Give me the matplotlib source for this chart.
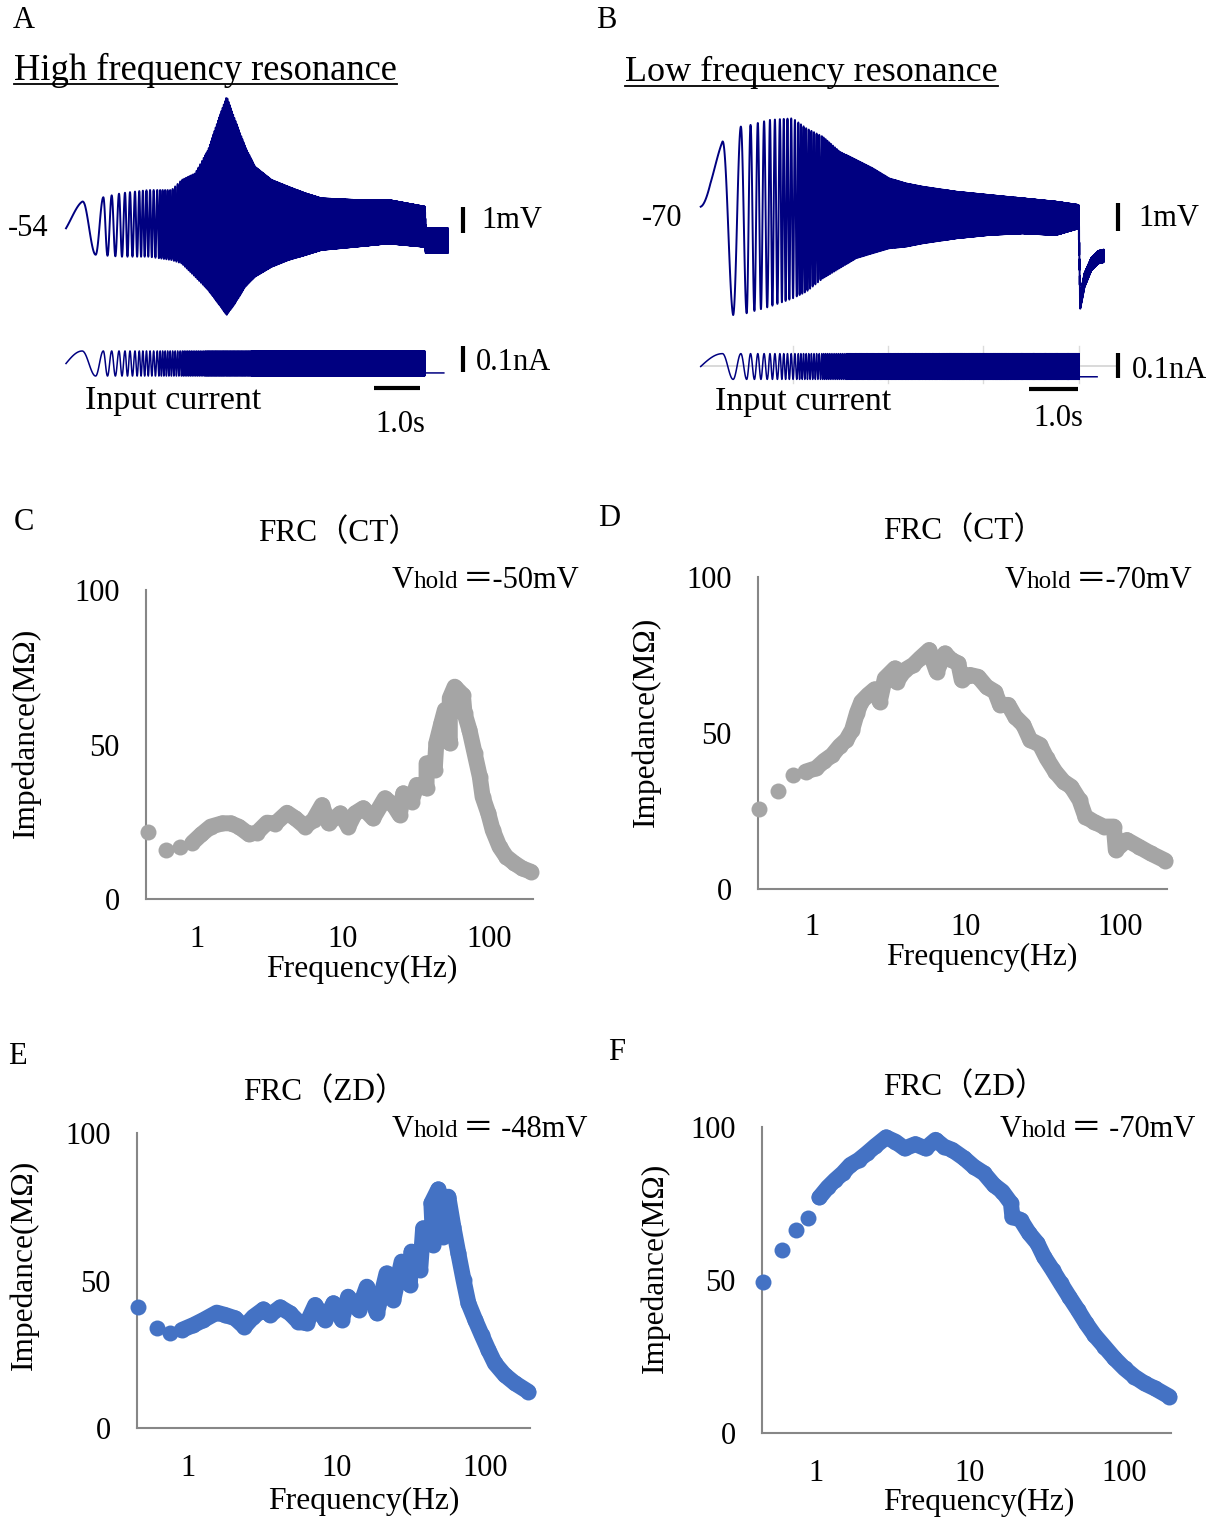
import numpy as np
import matplotlib
matplotlib.use('Agg')
import matplotlib.pyplot as plt
from matplotlib.ticker import NullLocator
from matplotlib.lines import Line2D

plt.rcParams['font.family'] = ['Liberation Serif', 'Noto Sans CJK JP']
plt.rcParams['path.simplify'] = False

W, H = 1220, 1519
NAVY = '#000080'
GRAY = '#a5a5a5'
BLUE = '#4472c4'
AXIS = '#878787'

# ---------------- A: high frequency resonance trace ----------------
# stimulus cycles counted at the peaks/troughs
a_cyc_t = [0, 0.35, 0.64, 0.806, 0.987, 1.145, 1.274, 1.382, 1.49, 1.583,
           2.0, 2.5, 3.0, 4.0, 5.0, 6.5, 8.5]
a_cyc_n = [0, 0.25, 0.75, 1.25, 2.25, 3.25, 4.25, 5.25, 6.25, 7.25,
           12.63, 21.88, 34.88, 74.88, 139.88, 304.88, 644.88]
a_env_t = [0, 0.41, 0.70, 1.20, 1.78, 2.28, 2.50, 2.79, 3.07, 3.29, 3.47, 3.65,
           3.87, 4.08, 4.44, 4.80, 5.16, 5.52, 6.24, 6.96, 7.75, 7.77, 8.25]
a_env_up = [0.59, 1.04, 1.10, 1.30, 1.42, 1.42, 1.81, 2.06, 2.96, 4.12, 5.01, 4.12,
            3.09, 2.32, 1.81, 1.55, 1.30, 1.10, 1.04, 1.04, 0.78, -0.05, -0.05]
a_env_lo = [-0.69, -1.01, -1.08, -1.14, -1.14, -1.27, -1.40, -1.91, -2.42, -2.94, -3.38, -2.94,
            -2.30, -1.91, -1.53, -1.27, -1.08, -0.88, -0.76, -0.63, -0.76, -1.0, -1.0]
a_vhold = -54
a_stim_end, a_v_end, a_i_end = 7.75, 8.25, 8.16
a_i_amp, a_i_post = 0.049, -0.037

# ---------------- B: low frequency resonance trace ----------------
b_cyc_t = [0, 0.45, 0.67, 0.83, 0.95, 1.03, 1.11, 1.18, 1.4, 1.65,
           2.0, 2.5, 3.0, 4.0, 5.0, 6.5, 8.5]
b_cyc_n = [0, 0.25, 0.75, 1.25, 1.75, 2.25, 2.75, 3.25, 4.95, 7.39,
           11.94, 21.19, 34.19, 74.19, 139.19, 304.19, 664.19]
b_env_t = [0, 0.2, 0.45, 0.67, 0.83, 1.03, 1.42, 1.90, 2.18, 2.52, 2.87, 3.21, 3.55,
           3.90, 4.24, 4.59, 5.28, 5.96, 6.65, 7.34, 7.81, 7.84, 7.93, 8.07, 8.21, 8.33]
b_env_up = [0.5, 1.6, 2.65, 3.1, 3.19, 3.25, 3.43, 3.49, 3.13, 2.83, 2.29, 1.99, 1.69,
            1.32, 1.14, 1.02, 0.84, 0.72, 0.60, 0.48, 0.36, -2.9, -2.1, -1.55, -1.3, -1.25]
b_env_lo = [0.1, -1.0, -2.5, -3.61, -3.61, -3.5, -3.31, -3.01, -2.77, -2.29, -1.92, -1.56, -1.38,
            -1.20, -1.14, -1.02, -0.84, -0.72, -0.66, -0.72, -0.48, -3.4, -2.6, -2.0, -1.75, -1.7]
b_vhold = -70
b_stim_end, b_v_end, b_i_end = 7.82, 8.33, 8.19
b_i_amp, b_i_post = 0.05, -0.04
b_grid_t = [1.9, 3.88, 5.84, 7.82]

# ---------------- C-F: frequency response curves ----------------
c_freq = [0.466, 0.615, 0.77, 0.935, 1.076, 1.246, 1.5, 1.705, 1.944, 2.27, 2.59, 3.03,
          3.45, 4.15, 4.73, 5.53, 6.3, 7.2, 7.98, 9.6, 10.9, 12.1, 13.8, 16.1, 19.4,
          22.2, 24.5, 25.9, 29.5, 32, 37.4, 37.4, 42.5, 43.6, 47.2, 49.9, 53.9, 53.9,
          58.2, 66.3, 68, 73.5, 79.7, 86.5, 90.4, 98.9, 106, 118, 131, 149, 169, 194]
c_imp = [21.6, 15.9, 16.9, 18.2, 20.9, 23.4, 24.5, 24.5, 23.4, 21.0, 21.5, 24.7,
         24.4, 27.9, 26.1, 23.4, 25.6, 30.4, 24.5, 27.7, 23.4, 27.7, 29.4, 26.1, 32.6,
         30.4, 27.2, 34.2, 31.5, 36.9, 35.8, 43.9, 41.7, 50.4, 56.9, 61.2, 50.4, 65,
         68.7, 66, 60.1, 54.7, 47.2, 39.6, 33.1, 27.7, 22.3, 16.9, 13.7, 11.6, 9.9, 8.8]

d_freq = [0.455, 0.61, 0.756, 0.914, 1.07, 1.21, 1.36, 1.52, 1.68, 1.83, 1.97, 2.1,
          2.32, 2.56, 2.76, 2.98, 3.46, 3.55, 4.02, 4.55, 5.03, 5.77, 6.45, 7.3, 8.06,
          8.92, 9.38, 10.6, 12, 13.6, 15.4, 16.6, 18.8, 20.8, 23.5, 26, 30.1, 33.3,
          37.8, 42.8, 47.9, 54.3, 59.2, 66.9, 77.9, 90.5, 93.2, 110, 131, 157, 195]
d_imp = [25.6, 31.5, 36.5, 37.6, 38.7, 41.1, 42.9, 45.8, 47.8, 51, 56.5, 60,
         62.2, 64, 60, 67.5, 70.7, 66.4, 70.2, 71.8, 73.9, 76.6, 69.7, 75.5, 73.4,
         72.3, 67, 68.6, 68, 64.8, 63.2, 59, 59, 55.2, 52.6, 47.8, 46.2, 41.9,
         37.6, 34.4, 32.8, 28.5, 23.2, 21.6, 20, 20, 12.5, 15.7, 13.6, 11.4, 9.1]

e_freq = [0.456, 0.612, 0.753, 0.9, 1.08, 1.26, 1.55, 1.77, 2.06, 2.38, 2.74, 3.2,
          3.55, 4.15, 4.83, 5.5, 6.26, 7.14, 8.33, 9.48, 10.8, 11.9, 14, 15.9, 18.6,
          21.6, 24, 27.3, 31, 31.8, 36.4, 38.1, 44.6, 43.3, 48.2, 52, 56.3, 60.9,
          65.8, 71.3, 76.9, 85.5, 94.6, 105, 116, 135, 158, 195]
e_imp = [40.9, 33.8, 32.1, 33.2, 34.9, 36.6, 39.1, 38.3, 37.2, 34.3, 37.7, 40.2,
         38.3, 40.9, 38.9, 36, 35.5, 41.7, 36.6, 42.3, 36.6, 44.5, 40, 47.9, 38.9,
         52.4, 43.4, 56.4, 48.5, 59.8, 53.6, 67.7, 62, 76.2, 80.9, 64.8, 78.4, 68.2,
         59.2, 50.2, 42.3, 36.6, 31.5, 26.4, 21.9, 18, 15.2, 12.3]

f_freq = [0.455, 0.604, 0.75, 0.9, 1.06, 1.2, 1.34, 1.5, 1.68, 1.9, 2.15, 2.44,
          2.86, 3.29, 3.77, 4.43, 5.15, 5.98, 6.78, 7.68, 9.15, 10.6, 12.3, 14.3,
          16.2, 18.4, 18.8, 21.3, 24.1, 27.3, 30.1, 34.2, 38.7, 43.9, 49.9, 56.5,
          63.9, 74.2, 86.1, 100, 116, 135, 157, 195]
f_imp = [49.5, 59.8, 66.3, 70.2, 77, 80.3, 82.7, 84.9, 87.6, 89.2, 91.4, 93.8,
         96.6, 95.2, 93, 94.4, 93, 95.8, 93.6, 92.5, 89.8, 87, 84.9, 81,
         78.9, 75.1, 70.7, 69.6, 65.3, 62, 57.6, 53.3, 48.9, 44.5, 40.2, 35.8,
         32, 28.2, 24.4, 21.1, 18.4, 16.2, 14.6, 11.9]

freq_ticks = [1, 10, 100]
freq_ticklabels = ['1', '10', '100']
imp_ticks = [0, 50, 100]


def fx(x):
    return x / W


def fy(y):
    return 1 - y / H


def put(fig, x, y, s, size=22, ha='center', va='center', **kw):
    return fig.text(fx(x), fy(y), s, fontsize=size, ha=ha, va=va, **kw)


def trace_axes(fig, left, right, top, bottom, x0, sx, y0, sy, v0):
    # pixel box -> axes whose data units map linearly onto pixels
    ax = fig.add_axes([fx(left), fy(bottom), (right - left) / W, (bottom - top) / H])
    ax.set_xlim((left - x0) / sx, (right - x0) / sx)
    ax.set_ylim(v0 + (y0 - bottom) / sy, v0 + (y0 - top) / sy)
    ax.axis('off')
    return ax


def draw_trace(ax_v, ax_i, cyc_t, cyc_n, env_t, env_up, env_lo, vhold, stim_end, v_end, i_end, i_amp, i_post):
    t = np.linspace(0, v_end, 90000)
    ph = 2 * np.pi * np.interp(t, cyc_t, cyc_n)
    up = np.interp(t, env_t, env_up)
    lo = np.interp(t, env_t, env_lo)
    v = vhold + (up + lo) / 2 + (up - lo) / 2 * np.sin(ph)
    ax_v.plot(t, v, color=NAVY, lw=1.4)
    m = t <= stim_end
    ti = np.concatenate([t[m], [stim_end, i_end]])
    ii = np.concatenate([i_amp * np.sin(ph[m]), [i_post, i_post]])
    ax_i.plot(ti, ii, color=NAVY, lw=1.1)


def scale_bars(ax_v, ax_i, xbar, vbar_lo, tbar, ibar_lo, ybar_t):
    ax_v.plot([xbar, xbar], [vbar_lo, vbar_lo + 1.0], color='black', lw=3, solid_capstyle='butt', clip_on=False)
    ax_i.plot([xbar, xbar], [ibar_lo, ibar_lo + 0.1], color='black', lw=3, solid_capstyle='butt', clip_on=False)
    ax_i.plot([tbar, tbar + 1.0], [ybar_t, ybar_t], color='black', lw=3, solid_capstyle='butt', clip_on=False)


def frc_panel(fig, box, freq, imp, color, link_from, xpad=19):
    l, r, t, b = box
    ax = fig.add_axes([fx(l), fy(b), (r - l) / W, (b - t) / H])
    ax.set_xscale('log')
    ax.set_xlim(0.45, 200)
    ax.set_ylim(0, 100)
    ax.plot(freq[link_from:], imp[link_from:], color=color, lw=11.5,
            solid_capstyle='round', solid_joinstyle='round', clip_on=False, zorder=3)
    ax.plot(freq, imp, 'o', color=color, ms=11.5, mew=0, clip_on=False, zorder=3)
    for s in ['top', 'right']:
        ax.spines[s].set_visible(False)
    for s in ['left', 'bottom']:
        ax.spines[s].set_color(AXIS)
        ax.spines[s].set_linewidth(1.5)
    ax.set_xticks(freq_ticks)
    ax.set_xticklabels(freq_ticklabels)
    ax.xaxis.set_minor_locator(NullLocator())
    ax.set_yticks(imp_ticks)
    ax.tick_params(axis='both', length=0, labelsize=22)
    ax.tick_params(axis='x', pad=xpad)
    ax.tick_params(axis='y', pad=19)
    ax.patch.set_visible(False)
    return ax


def vhold_text(fig, x, y, rest):
    # "V" then smaller "hold" on the same baseline, then the value
    t1 = fig.text(fx(x), fy(y), 'V', fontsize=22, ha='left', va='baseline')
    t2 = fig.add_artist(plt.Annotation('hold', xy=(1, fy(y)), xycoords=(t1, 'figure fraction'),
                                       fontsize=18, ha='left', va='baseline', annotation_clip=False))
    fig.add_artist(plt.Annotation(rest, xy=(1, fy(y)), xycoords=(t2, 'figure fraction'),
                                  xytext=(3, 0), textcoords='offset points',
                                  fontsize=22, ha='left', va='baseline', annotation_clip=False))


fig = plt.figure(figsize=(12.2, 15.19), dpi=100)

# ---- A ----
axA_v = trace_axes(fig, 55, 480, 85, 330, 66, 46.3, 227, 26, a_vhold)
axA_i = trace_axes(fig, 55, 480, 338, 400, 66, 46.3, 363.5, 255, 0)
draw_trace(axA_v, axA_i, a_cyc_t, a_cyc_n, a_env_t, a_env_up, a_env_lo, a_vhold,
           a_stim_end, a_v_end, a_i_end, a_i_amp, a_i_post)
scale_bars(axA_v, axA_i, (463 - 66) / 46.3, a_vhold - 0.23,
           (374 - 66) / 46.3, -0.033, -0.095)

# ---- B ----
axB_v = trace_axes(fig, 690, 1130, 100, 330, 700.7, 48.4, 215, 27.7, b_vhold)
axB_i = trace_axes(fig, 690, 1130, 338, 400, 700.7, 48.4, 366.5, 257, 0)
axB_i.plot([0, b_v_end + 0.3], [0, 0], color='#d3d3d3', lw=1.2, zorder=0)
for gt in b_grid_t:
    axB_i.plot([gt, gt], [-0.065, 0.08], color='#dcdcdc', lw=1.0, zorder=0)
draw_trace(axB_v, axB_i, b_cyc_t, b_cyc_n, b_env_t, b_env_up, b_env_lo, b_vhold,
           b_stim_end, b_v_end, b_i_end, b_i_amp, b_i_post)
scale_bars(axB_v, axB_i, (1118.3 - 700.7) / 48.4, b_vhold - 0.58,
           (1029.3 - 700.7) / 48.4, -0.046, -0.086)

# ---- trace texts ----
put(fig, 24, 20, 'A')
put(fig, 606, 20, 'B')
tA = put(fig, 14, 70, 'High frequency resonance', size=26.3, ha='left')
tB = put(fig, 625, 72, 'Low frequency resonance', size=26, ha='left')
put(fig, 48, 229, '-54', ha='right')
put(fig, 481, 220, '1mV', ha='left')
put(fig, 476, 362, '0.1nA', ha='left')
put(fig, 85, 401, 'Input current', size=24.5, ha='left')
put(fig, 400, 425, '1.0s')
put(fig, 682, 219, '-70', ha='right')
put(fig, 1138, 218, '1mV', ha='left')
put(fig, 1132, 371, '0.1nA', ha='left')
put(fig, 715, 402, 'Input current', size=24.5, ha='left')
put(fig, 1058, 419, '1.0s')

# ---- FRC panels ----
frc_panel(fig, (146, 533, 590, 899), c_freq, c_imp, GRAY, 3)
frc_panel(fig, (758, 1167, 577, 889), d_freq, d_imp, GRAY, 3, xpad=17)
frc_panel(fig, (137, 530, 1133, 1428), e_freq, e_imp, BLUE, 3)
frc_panel(fig, (762, 1171, 1127, 1433), f_freq, f_imp, BLUE, 4)

put(fig, 24, 522, 'C')
put(fig, 609, 519, 'D')
put(fig, 17, 1057, 'E')
put(fig, 617, 1052, 'F')

put(fig, 339, 533, 'FRC（CT）', size=22.5)
put(fig, 964, 531, 'FRC（CT）', size=22.5)
put(fig, 325, 1092, 'FRC（ZD）', size=22.5)
put(fig, 965, 1087, 'FRC（ZD）', size=22.5)

for x, y in [(362, 969), (982, 957), (364, 1501), (979, 1502)]:
    put(fig, x, y, 'Frequency(Hz)', size=22.8)
for x, y in [(26, 733), (646, 722), (24, 1265), (655, 1268)]:
    put(fig, x, y, 'Impedance(MΩ)', size=22.6, rotation=90)

vhold_text(fig, 392, 588, '＝-50mV')
vhold_text(fig, 1005, 588, '＝-70mV')
vhold_text(fig, 392, 1137, '＝ -48mV')
vhold_text(fig, 1000, 1137, '＝ -70mV')

# underline the two trace titles
fig.canvas.draw()
renderer = fig.canvas.get_renderer()
for txt, yline in [(tA, 84), (tB, 86)]:
    bb = txt.get_window_extent(renderer)
    fig.add_artist(Line2D([bb.x0 / W, bb.x1 / W], [fy(yline), fy(yline)],
                          color='black', lw=1.3, transform=fig.transFigure))

fig.savefig('out.png', dpi=100, facecolor='white')
